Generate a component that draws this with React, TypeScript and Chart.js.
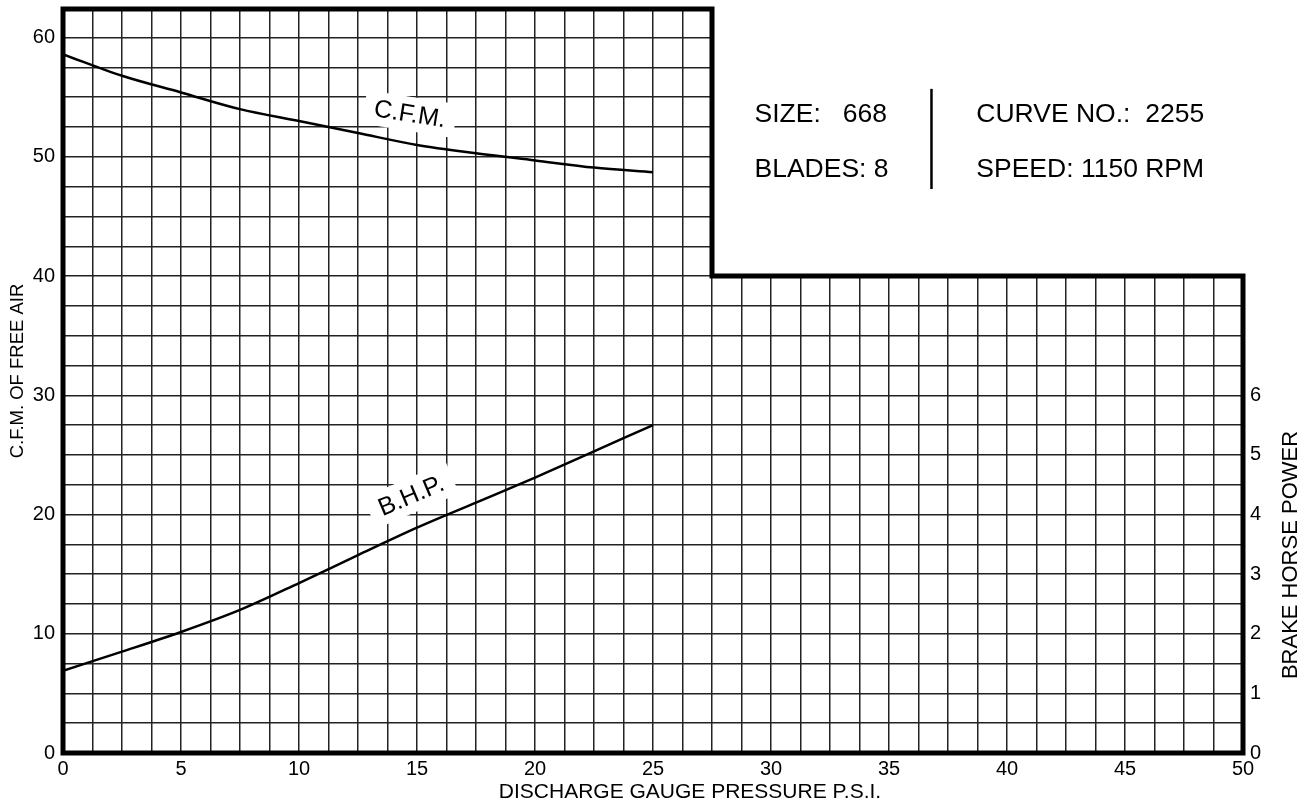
import React, { useEffect, useRef } from "react";
import { Chart, registerables } from "chart.js";

Chart.register(...registerables);

// ---- data ----
const pressure = [0, 2.5, 5, 7.5, 10, 12.5, 15, 17.5, 20, 22.5, 25];
const cfm = [58.6, 56.8, 55.4, 54.0, 53.0, 52.0, 51.0, 50.3, 49.7, 49.1, 48.7];
const bhp = [1.38, 1.7, 2.03, 2.4, 2.85, 3.32, 3.78, 4.2, 4.62, 5.06, 5.5];

const xTickLabels = [0, 5, 10, 15, 20, 25, 30, 35, 40, 45, 50];
const cfmTickLabels = [0, 10, 20, 30, 40, 50, 60];
const bhpTickLabels = [0, 1, 2, 3, 4, 5, 6];

const infoLeft = ["SIZE:   668", "BLADES: 8"];
const infoRight = ["CURVE NO.:  2255", "SPEED: 1150 RPM"];

const xTitle = "DISCHARGE GAUGE PRESSURE P.S.I.";
const yTitle = "C.F.M. OF FREE AIR";
const y1Title = "BRAKE HORSE POWER";
const cfmLabel = "C.F.M.";
const bhpLabel = "B.H.P.";

const FONT = "'Liberation Sans', Arial, Helvetica, sans-serif";
const CFM_MAX = 62.4;
const BHP_PER_CFM = 5;

const decorPlugin = {
  id: "decor",
  beforeDatasetsDraw(chart: any) {
    const { ctx, chartArea } = chart;
    const xs = chart.scales.x;
    const ys = chart.scales.y;
    ctx.save();
    // clear the notch (no grid above 40 to the right of 27.5)
    ctx.fillStyle = "#fff";
    const nx = xs.getPixelForValue(27.5);
    const ny = ys.getPixelForValue(40);
    ctx.fillRect(nx, 0, chartArea.right + 2 - nx, ny);

    // curve labels with white boxes
    const drawLabel = (text: string, vx: number, vy: number, angleDeg: number, bw: number, bh: number) => {
      const px = xs.getPixelForValue(vx);
      const py = ys.getPixelForValue(vy);
      ctx.save();
      ctx.translate(px, py);
      ctx.rotate((angleDeg * Math.PI) / 180);
      ctx.fillStyle = "#fff";
      ctx.fillRect(-bw / 2, -bh / 2, bw, bh);
      ctx.fillStyle = "#000";
      ctx.font = `25px ${FONT}`;
      ctx.textAlign = "center";
      ctx.textBaseline = "middle";
      ctx.fillText(text, 0, 1);
      ctx.restore();
    };
    drawLabel(cfmLabel, 14.7, 53.6, 9, 92, 34);
    drawLabel(bhpLabel, 14.75, 21.6, -23, 90, 34);
    ctx.restore();
  },
  afterDatasetsDraw(chart: any) {
    const { ctx, chartArea } = chart;
    const xs = chart.scales.x;
    const ys = chart.scales.y;
    ctx.save();
    // stepped thick border
    const x0 = xs.getPixelForValue(0);
    const xm = xs.getPixelForValue(27.5);
    const x1 = xs.getPixelForValue(50);
    const y0 = ys.getPixelForValue(0);
    const ym = ys.getPixelForValue(40);
    const yt = chartArea.top;
    ctx.strokeStyle = "#000";
    ctx.lineWidth = 5;
    ctx.lineJoin = "miter";
    ctx.beginPath();
    ctx.moveTo(x0, yt);
    ctx.lineTo(xm, yt);
    ctx.lineTo(xm, ym);
    ctx.lineTo(x1, ym);
    ctx.lineTo(x1, y0);
    ctx.lineTo(x0, y0);
    ctx.closePath();
    ctx.stroke();

    // info block
    ctx.fillStyle = "#000";
    ctx.font = `26.5px ${FONT}`;
    ctx.textAlign = "left";
    ctx.textBaseline = "middle";
    const lx = xs.getPixelForValue(29.3);
    const rx = xs.getPixelForValue(38.7);
    const r1 = ys.getPixelForValue(53.5);
    const r2 = ys.getPixelForValue(48.9);
    ctx.fillText(infoLeft[0], lx, r1);
    ctx.fillText(infoLeft[1], lx, r2);
    ctx.fillText(infoRight[0], rx, r1);
    ctx.fillText(infoRight[1], rx, r2);
    const dx = xs.getPixelForValue(36.8);
    ctx.lineWidth = 2.5;
    ctx.beginPath();
    ctx.moveTo(dx, ys.getPixelForValue(55.7));
    ctx.lineTo(dx, ys.getPixelForValue(47.3));
    ctx.stroke();

    // axis titles
    ctx.textAlign = "center";
    ctx.textBaseline = "middle";
    ctx.font = `21px ${FONT}`;
    ctx.fillText(xTitle, 690, 792);

    ctx.font = `18.5px ${FONT}`;
    ctx.save();
    ctx.translate(18, 371);
    ctx.rotate(-Math.PI / 2);
    ctx.fillText(yTitle, 0, 0);
    ctx.restore();

    ctx.font = `22px ${FONT}`;
    ctx.save();
    ctx.translate(1291, 555);
    ctx.rotate(-Math.PI / 2);
    ctx.fillText(y1Title, 0, 0);
    ctx.restore();

    ctx.restore();
  },
};

export default function App() {
  const ref = useRef<HTMLCanvasElement | null>(null);

  useEffect(() => {
    document.body.style.margin = "0";
    const canvas = ref.current;
    if (!canvas) return;
    const gridColor = "#222";
    const tickFont = { family: FONT, size: 20 };
    const chart = new Chart(canvas, {
      type: "line",
      data: {
        datasets: [
          {
            label: "C.F.M.",
            data: pressure.map((x, i) => ({ x, y: cfm[i] })),
            yAxisID: "y",
            borderColor: "#000",
            borderWidth: 2.5,
            pointRadius: 0,
            fill: false,
            cubicInterpolationMode: "monotone",
          },
          {
            label: "B.H.P.",
            data: pressure.map((x, i) => ({ x, y: bhp[i] })),
            yAxisID: "y1",
            borderColor: "#000",
            borderWidth: 2.5,
            pointRadius: 0,
            fill: false,
            cubicInterpolationMode: "monotone",
          },
        ],
      },
      options: {
        responsive: false,
        animation: false,
        layout: { padding: { top: 9, left: 0, right: 0, bottom: 0 } },
        plugins: { legend: { display: false }, tooltip: { enabled: false } },
        scales: {
          x: {
            type: "linear",
            min: 0,
            max: 50,
            afterFit: (s: any) => {
              s.height = 51;
              s.paddingLeft = 0;
              s.paddingRight = 0;
            },
            border: { display: false },
            grid: { color: gridColor, lineWidth: 1.5, drawTicks: false },
            ticks: {
              stepSize: 1.25,
              autoSkip: false,
              maxRotation: 0,
              padding: 4,
              color: "#000",
              font: tickFont,
              callback: (v: any) => (xTickLabels.includes(Number(v)) ? String(v) : ""),
            },
          },
          y: {
            type: "linear",
            position: "left",
            min: 0,
            max: CFM_MAX,
            afterFit: (s: any) => {
              s.width = 63;
              s.paddingTop = 0;
              s.paddingBottom = 0;
            },
            border: { display: false },
            grid: { color: gridColor, lineWidth: 1.5, drawTicks: false },
            ticks: {
              stepSize: 2.5,
              autoSkip: false,
              padding: 8,
              color: "#000",
              font: tickFont,
              callback: (v: any) => (cfmTickLabels.includes(Number(v)) ? String(v) : ""),
            },
          },
          y1: {
            type: "linear",
            position: "right",
            min: 0,
            max: CFM_MAX / BHP_PER_CFM,
            afterFit: (s: any) => {
              s.width = 68;
              s.paddingTop = 0;
              s.paddingBottom = 0;
            },
            border: { display: false },
            grid: { display: false, drawTicks: false },
            ticks: {
              stepSize: 1,
              autoSkip: false,
              padding: 7,
              color: "#000",
              font: tickFont,
              callback: (v: any) => (bhpTickLabels.includes(Number(v)) ? String(v) : ""),
            },
          },
        },
      } as any,
      plugins: [decorPlugin],
    });
    return () => chart.destroy();
  }, []);

  return (
    <div style={{ width: 1311, height: 804, background: "#fff" }}>
      <canvas ref={ref} width={1311} height={804} style={{ display: "block" }} />
    </div>
  );
}
